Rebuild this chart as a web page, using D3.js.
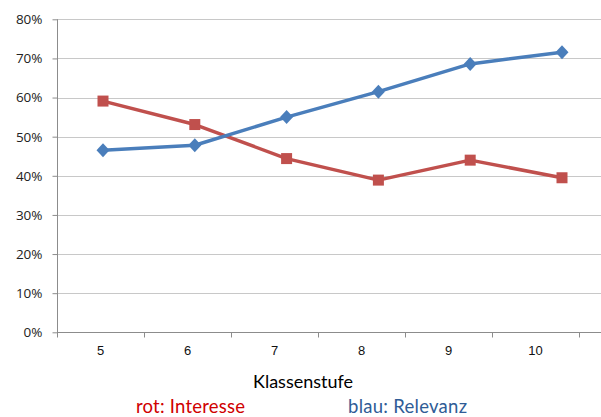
<!DOCTYPE html>
<html><head><meta charset="utf-8">
<script src="https://cdn.jsdelivr.net/npm/d3@7"></script>
<style>body{margin:0;background:#fff}svg{display:block}</style>
</head><body><svg id="c" width="601" height="417"></svg>
<script>
const categories = ["5","6","7","8","9","10"];
const interesse = [0.591, 0.531, 0.444, 0.389, 0.440, 0.395];
const relevanz = [0.465, 0.478, 0.550, 0.615, 0.686, 0.716];
const yTicks = [0,0.1,0.2,0.3,0.4,0.5,0.6,0.7,0.8];

const svg = d3.select("#c");
const y = d3.scaleLinear().domain([0,0.8]).range([332.3,19.3]);
const xPts = d3.scalePoint().domain(categories).range([103,562]);
const xAxisBand = d3.scaleBand().domain(categories).range([57,579]);

// gridlines
svg.append("g").selectAll("line").data(yTicks.slice(1)).join("line")
  .attr("x1",57).attr("x2",601).attr("y1",d=>Math.round(y(d))+0.5).attr("y2",d=>Math.round(y(d))+0.5)
  .attr("stroke","#c8c8c8").attr("stroke-width",1.2);

// y axis
const yAxis = d3.axisLeft(y).tickValues(yTicks).tickFormat(d3.format(".0%")).tickSize(5).tickPadding(10);
const gy = svg.append("g").attr("transform","translate(57.5,0)").call(yAxis);
gy.select(".domain").attr("stroke","#8c8c8c").attr("d","M0,19.3V332.3");
gy.selectAll(".tick line").attr("stroke","#8c8c8c");
gy.selectAll("text").attr("font-family","Open Sans, sans-serif").attr("font-size",13.5).attr("fill","#222");

// x axis
const xAxis = d3.axisBottom(xAxisBand).tickSize(0).tickPadding(13);
const gx = svg.append("g").attr("transform","translate(0,332.5)").call(xAxis);
gx.select(".domain").attr("stroke","#8c8c8c").attr("d","M57,0H601");
gx.selectAll("text").attr("font-family","Liberation Sans, Arial, sans-serif").attr("font-size",13).attr("fill","#111");
const bounds = categories.map(c=>xAxisBand(c)).concat([xAxisBand("10")+xAxisBand.bandwidth()]);
gx.append("g").selectAll("line").data(bounds).join("line")
  .attr("x1",d=>Math.round(d)+0.5).attr("x2",d=>Math.round(d)+0.5).attr("y1",0).attr("y2",5)
  .attr("stroke","#8c8c8c");

const line = d3.line().x((d,i)=>xPts(categories[i])).y(d=>y(d));

// series
svg.append("path").datum(interesse).attr("d",line).attr("fill","none")
  .attr("stroke","#c0504d").attr("stroke-width",3.5).attr("stroke-linejoin","round");
svg.append("path").datum(relevanz).attr("d",line).attr("fill","none")
  .attr("stroke","#4a7ebb").attr("stroke-width",3.5).attr("stroke-linejoin","round");

svg.append("g").selectAll("rect").data(interesse).join("rect")
  .attr("x",(d,i)=>xPts(categories[i])-5.5).attr("y",d=>y(d)-5.5)
  .attr("width",11).attr("height",11).attr("fill","#c0504d");
svg.append("g").selectAll("path").data(relevanz).join("path")
  .attr("transform",(d,i)=>`translate(${xPts(categories[i])},${y(d)})`)
  .attr("d","M0,-7L6.5,0L0,7L-6.5,0Z").attr("fill","#4a7ebb");

// titles
svg.append("text").attr("x",303).attr("y",388).attr("text-anchor","middle")
  .attr("font-family","Lato, Open Sans, sans-serif").attr("font-size",18).attr("fill","#000").text("Klassenstufe");
svg.append("text").attr("x",136).attr("y",413).attr("textLength",109)
  .attr("font-family","Lato, Open Sans, sans-serif").attr("font-size",18.5).attr("fill","#d00000").text("rot: Interesse");
svg.append("text").attr("x",348).attr("y",413).attr("textLength",119)
  .attr("font-family","Lato, Open Sans, sans-serif").attr("font-size",18.5).attr("fill","#2f5c96").text("blau: Relevanz");
</script></body></html>
